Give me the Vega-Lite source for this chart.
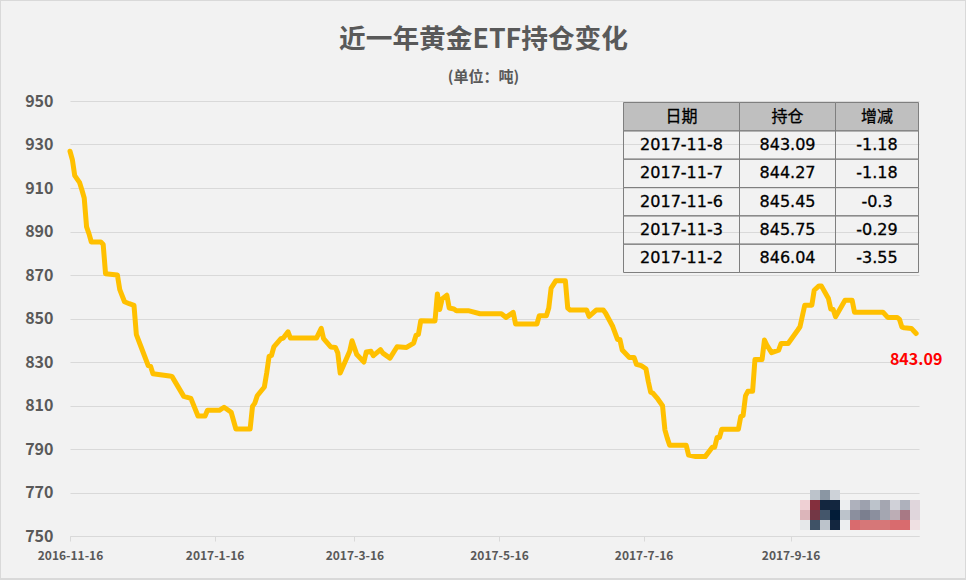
{
  "$schema": "https://vega.github.io/schema/vega-lite/v6.json",
  "description": "近一年黄金ETF持仓变化",
  "background": "#f2f2f2",
  "autosize": "none",
  "padding": {"left": 70, "top": 101, "right": 47, "bottom": 44},
  "width": 849,
  "height": 435,
  "title": {
    "text": "近一年黄金ETF持仓变化",
    "subtitle": "(单位：吨)\u00a0\u00a0\u00a0",
    "anchor": "middle",
    "frame": "group",
    "dx": -11,
    "offset": -85.5,
    "font": "Noto Sans CJK SC",
    "fontSize": 26.7,
    "fontWeight": "bold",
    "color": "#595959",
    "subtitleFont": "Noto Sans CJK SC",
    "subtitleFontSize": 15,
    "subtitleFontWeight": "bold",
    "subtitleColor": "#595959",
    "subtitlePadding": 15.5
  },
  "config": {"font": "Noto Sans CJK SC", "view": {"stroke": null}},
  "datasets": {
    "holdings": [
      {"date":"2016-11-16","tons":926.9},{"date":"2016-11-17","tons":923},{"date":"2016-11-18","tons":915.7},{"date":"2016-11-20","tons":912.6},{"date":"2016-11-21","tons":909.2},{"date":"2016-11-22","tons":905.4},{"date":"2016-11-23","tons":892.1},{"date":"2016-11-24","tons":889},{"date":"2016-11-25","tons":885.2},{"date":"2016-11-29","tons":885.2},{"date":"2016-11-30","tons":884},
      {"date":"2016-12-01","tons":870.6},{"date":"2016-12-06","tons":870},{"date":"2016-12-07","tons":863.3},{"date":"2016-12-09","tons":857.7},{"date":"2016-12-11","tons":856.8},{"date":"2016-12-13","tons":856},{"date":"2016-12-14","tons":842.6},{"date":"2016-12-16","tons":836.9},{"date":"2016-12-19","tons":828.3},{"date":"2016-12-20","tons":828},{"date":"2016-12-21","tons":824.6},{"date":"2016-12-28","tons":823.6},{"date":"2016-12-29","tons":823.4},
      {"date":"2017-01-03","tons":814.2},{"date":"2017-01-06","tons":813.3},{"date":"2017-01-09","tons":805.2},{"date":"2017-01-12","tons":805.2},{"date":"2017-01-13","tons":807.8},{"date":"2017-01-18","tons":807.8},{"date":"2017-01-20","tons":809.2},{"date":"2017-01-23","tons":806.9},{"date":"2017-01-25","tons":799.2},{"date":"2017-01-31","tons":799.2},
      {"date":"2017-02-01","tons":809.6},{"date":"2017-02-02","tons":811.1},{"date":"2017-02-03","tons":814.5},{"date":"2017-02-06","tons":818.5},{"date":"2017-02-07","tons":825},{"date":"2017-02-08","tons":832.6},{"date":"2017-02-09","tons":833},{"date":"2017-02-10","tons":836.9},{"date":"2017-02-13","tons":840.7},{"date":"2017-02-14","tons":841},{"date":"2017-02-16","tons":843.9},{"date":"2017-02-17","tons":841},{"date":"2017-02-28","tons":841},
      {"date":"2017-03-02","tons":845.5},{"date":"2017-03-03","tons":840.7},{"date":"2017-03-06","tons":836.9},{"date":"2017-03-08","tons":836.7},{"date":"2017-03-09","tons":834.1},{"date":"2017-03-10","tons":824.9},{"date":"2017-03-14","tons":834.9},{"date":"2017-03-15","tons":839.8},{"date":"2017-03-17","tons":833.4},{"date":"2017-03-20","tons":830},{"date":"2017-03-21","tons":834.6},{"date":"2017-03-23","tons":834.9},{"date":"2017-03-24","tons":832.9},{"date":"2017-03-27","tons":835.7},{"date":"2017-03-28","tons":834.1},{"date":"2017-03-31","tons":831.8},
      {"date":"2017-04-03","tons":837},{"date":"2017-04-07","tons":836.7},{"date":"2017-04-10","tons":838.7},{"date":"2017-04-11","tons":842.3},{"date":"2017-04-12","tons":842.7},{"date":"2017-04-13","tons":849},{"date":"2017-04-19","tons":848.9},{"date":"2017-04-20","tons":861.3},{"date":"2017-04-21","tons":854.1},{"date":"2017-04-22","tons":859},{"date":"2017-04-24","tons":860.7},{"date":"2017-04-25","tons":854.8},{"date":"2017-04-27","tons":854.4},{"date":"2017-04-28","tons":853.6},
      {"date":"2017-05-03","tons":853.6},{"date":"2017-05-08","tons":852.2},{"date":"2017-05-17","tons":852.2},{"date":"2017-05-19","tons":850.5},{"date":"2017-05-22","tons":852.8},{"date":"2017-05-23","tons":847.5},
      {"date":"2017-06-01","tons":847.5},{"date":"2017-06-02","tons":851.3},{"date":"2017-06-05","tons":851.3},{"date":"2017-06-06","tons":854.8},{"date":"2017-06-07","tons":864},{"date":"2017-06-09","tons":867.4},{"date":"2017-06-13","tons":867.4},{"date":"2017-06-14","tons":854.8},{"date":"2017-06-15","tons":853.9},{"date":"2017-06-22","tons":853.9},{"date":"2017-06-23","tons":851},{"date":"2017-06-26","tons":853.9},{"date":"2017-06-29","tons":853.9},{"date":"2017-06-30","tons":852.4},
      {"date":"2017-07-03","tons":846.3},{"date":"2017-07-05","tons":840.4},{"date":"2017-07-06","tons":840.4},{"date":"2017-07-07","tons":835.5},{"date":"2017-07-10","tons":832.1},{"date":"2017-07-12","tons":832.1},{"date":"2017-07-13","tons":828.9},{"date":"2017-07-15","tons":828.3},{"date":"2017-07-17","tons":826.9},{"date":"2017-07-18","tons":821},{"date":"2017-07-19","tons":816.1},{"date":"2017-07-20","tons":815.6},{"date":"2017-07-22","tons":813},{"date":"2017-07-24","tons":809.9},{"date":"2017-07-25","tons":798.8},{"date":"2017-07-26","tons":795},{"date":"2017-07-27","tons":791.7},
      {"date":"2017-08-03","tons":791.7},{"date":"2017-08-04","tons":787.2},{"date":"2017-08-07","tons":786.5},{"date":"2017-08-11","tons":786.5},{"date":"2017-08-14","tons":790.8},{"date":"2017-08-15","tons":790.8},{"date":"2017-08-16","tons":795.3},{"date":"2017-08-17","tons":795.3},{"date":"2017-08-18","tons":799.1},{"date":"2017-08-25","tons":799.1},{"date":"2017-08-26","tons":804.9},{"date":"2017-08-27","tons":805.4},{"date":"2017-08-28","tons":814.4},{"date":"2017-08-29","tons":816.5},{"date":"2017-08-31","tons":816.5},
      {"date":"2017-09-01","tons":831.2},{"date":"2017-09-04","tons":831.2},{"date":"2017-09-05","tons":840.1},{"date":"2017-09-06","tons":837.8},{"date":"2017-09-08","tons":834.3},{"date":"2017-09-11","tons":835.5},{"date":"2017-09-12","tons":838.5},{"date":"2017-09-15","tons":838.5},{"date":"2017-09-19","tons":844.6},{"date":"2017-09-20","tons":846.2},{"date":"2017-09-22","tons":856.1},{"date":"2017-09-25","tons":856.1},{"date":"2017-09-26","tons":863},{"date":"2017-09-28","tons":865},{"date":"2017-09-29","tons":865},
      {"date":"2017-10-02","tons":859.2},{"date":"2017-10-03","tons":854.3},{"date":"2017-10-04","tons":854.1},{"date":"2017-10-05","tons":850.8},{"date":"2017-10-09","tons":858.4},{"date":"2017-10-12","tons":858.4},{"date":"2017-10-13","tons":852.9},{"date":"2017-10-25","tons":852.9},{"date":"2017-10-27","tons":850.5},{"date":"2017-10-31","tons":850.5},
      {"date":"2017-11-01","tons":849.59},{"date":"2017-11-02","tons":846.04},{"date":"2017-11-03","tons":845.75},{"date":"2017-11-06","tons":845.45},{"date":"2017-11-07","tons":844.27},{"date":"2017-11-08","tons":843.09}
    ],
    "latest": [{"date":"2017-11-08","tons":843.09}],
    "frame": [{"part":"frame"}],
    "table": [
      {"row":"h","col":0,"colEnd":1,"colMid":0.5,"text":"日期","kind":"head"},
      {"row":"h","col":1,"colEnd":2,"colMid":1.5,"text":"持仓","kind":"head"},
      {"row":"h","col":2,"colEnd":3,"colMid":2.5,"text":"增减","kind":"head"},
      {"row":"a","col":0,"colEnd":1,"colMid":0.5,"text":"2017-11-8","kind":"body"},
      {"row":"a","col":1,"colEnd":2,"colMid":1.5,"text":"843.09","kind":"body"},
      {"row":"a","col":2,"colEnd":3,"colMid":2.5,"text":"-1.18","kind":"body"},
      {"row":"b","col":0,"colEnd":1,"colMid":0.5,"text":"2017-11-7","kind":"body"},
      {"row":"b","col":1,"colEnd":2,"colMid":1.5,"text":"844.27","kind":"body"},
      {"row":"b","col":2,"colEnd":3,"colMid":2.5,"text":"-1.18","kind":"body"},
      {"row":"c","col":0,"colEnd":1,"colMid":0.5,"text":"2017-11-6","kind":"body"},
      {"row":"c","col":1,"colEnd":2,"colMid":1.5,"text":"845.45","kind":"body"},
      {"row":"c","col":2,"colEnd":3,"colMid":2.5,"text":"-0.3","kind":"body"},
      {"row":"d","col":0,"colEnd":1,"colMid":0.5,"text":"2017-11-3","kind":"body"},
      {"row":"d","col":1,"colEnd":2,"colMid":1.5,"text":"845.75","kind":"body"},
      {"row":"d","col":2,"colEnd":3,"colMid":2.5,"text":"-0.29","kind":"body"},
      {"row":"e","col":0,"colEnd":1,"colMid":0.5,"text":"2017-11-2","kind":"body"},
      {"row":"e","col":1,"colEnd":2,"colMid":1.5,"text":"846.04","kind":"body"},
      {"row":"e","col":2,"colEnd":3,"colMid":2.5,"text":"-3.55","kind":"body"}
    ],
    "mosaic": [
      {"c":1,"r":0,"s":"a"},{"c":2,"r":0,"s":"b"},{"c":3,"r":0,"s":"c"},
      {"c":0,"r":1,"s":"d"},{"c":1,"r":1,"s":"e"},{"c":2,"r":1,"s":"f"},{"c":3,"r":1,"s":"f"},{"c":4,"r":1,"s":"g"},{"c":5,"r":1,"s":"h"},{"c":6,"r":1,"s":"i"},{"c":7,"r":1,"s":"a"},{"c":8,"r":1,"s":"r"},{"c":9,"r":1,"s":"j"},{"c":10,"r":1,"s":"h"},{"c":11,"r":1,"s":"k"},
      {"c":0,"r":2,"s":"l"},{"c":1,"r":2,"s":"m"},{"c":2,"r":2,"s":"n"},{"c":3,"r":2,"s":"o"},{"c":4,"r":2,"s":"a"},{"c":5,"r":2,"s":"p"},{"c":6,"r":2,"s":"q"},{"c":7,"r":2,"s":"p"},{"c":8,"r":2,"s":"r"},{"c":9,"r":2,"s":"s"},{"c":10,"r":2,"s":"t"},{"c":11,"r":2,"s":"k"},
      {"c":0,"r":3,"s":"u"},{"c":1,"r":3,"s":"v"},{"c":2,"r":3,"s":"a"},{"c":3,"r":3,"s":"f"},{"c":4,"r":3,"s":"g"},{"c":5,"r":3,"s":"w"},{"c":6,"r":3,"s":"x"},{"c":7,"r":3,"s":"x"},{"c":8,"r":3,"s":"x"},{"c":9,"r":3,"s":"w"},{"c":10,"r":3,"s":"w"},{"c":11,"r":3,"s":"y"}
    ]
  },
  "layer": [
    {
      "data": {"name": "holdings"},
      "mark": {"type": "line", "color": "#ffc000", "strokeWidth": 5, "strokeJoin": "round", "strokeCap": "round", "clip": false},
      "encoding": {
        "x": {
          "field": "date", "type": "temporal",
          "scale": {"type": "utc", "domain": [{"year":2016,"month":11,"date":16,"utc":true},{"year":2017,"month":11,"date":9,"hours":5,"utc":true}]},
          "axis": {
            "title": null,
            "values": [{"year":2016,"month":11,"date":16,"utc":true},{"year":2017,"month":1,"date":16,"utc":true},{"year":2017,"month":3,"date":16,"utc":true},{"year":2017,"month":5,"date":16,"utc":true},{"year":2017,"month":7,"date":16,"utc":true},{"year":2017,"month":9,"date":16,"utc":true}],
            "labelExpr": "utcFormat(datum.value, '%Y-%-m-%-d')",
            "labelFontSize": 12, "labelFontWeight": "bold", "labelColor": "#595959", "labelPadding": 9,
            "labelOverlap": false, "labelFlush": false, "labelAngle": 0,
            "domainColor": "#d9d9d9", "tickColor": "#d9d9d9", "tickSize": 5, "grid": false
          }
        },
        "y": {
          "field": "tons", "type": "quantitative",
          "scale": {"domain": [750, 950], "nice": false, "zero": false},
          "axis": {
            "title": null,
            "values": [750,770,790,810,830,850,870,890,910,930,950],
            "labelFontSize": 16, "labelFontWeight": "bold", "labelColor": "#595959", "labelPadding": 17,
            "domain": false, "ticks": false, "grid": true, "gridColor": "#d9d9d9", "gridWidth": 1
          }
        }
      }
    },
    {
      "data": {"name": "latest"},
      "mark": {"type": "text", "color": "#ff0000", "fontSize": 16, "fontWeight": "bold", "dy": 26, "clip": false},
      "encoding": {
        "x": {"field": "date", "type": "temporal", "axis": null, "scale": {"type": "utc", "domain": [{"year":2016,"month":11,"date":16,"utc":true},{"year":2017,"month":11,"date":9,"hours":5,"utc":true}]}},
        "y": {"field": "tons", "type": "quantitative", "axis": null, "scale": {"domain": [750, 950], "nice": false, "zero": false}},
        "text": {"field": "tons", "type": "quantitative", "format": ".2f"}
      }
    },
    {
      "data": {"name": "table"},
      "mark": {"type": "rect", "stroke": "#7f7f7f", "strokeWidth": 1},
      "encoding": {
        "x": {"field": "col", "type": "quantitative", "axis": null, "scale": {"domain": [0,1,2,3], "range": [553.5,669.5,765.5,848.5], "nice": false, "zero": false}},
        "x2": {"field": "colEnd"},
        "y": {"field": "row", "type": "ordinal", "axis": null, "scale": {"domain": ["h","a","b","c","d","e"], "range": [1.5,171.5], "paddingInner": 0, "paddingOuter": 0}},
        "fill": {"field": "kind", "type": "nominal", "legend": null, "scale": {"domain": ["head","body"], "range": ["#bfbfbf","transparent"]}}
      }
    },
    {
      "data": {"name": "table"},
      "mark": {"type": "text", "color": "#000000", "font": "DejaVu Sans, Noto Sans CJK SC", "fontSize": 16, "baseline": "middle", "stroke": "#000000", "strokeWidth": 0.3},
      "encoding": {
        "x": {"field": "colMid", "type": "quantitative", "axis": null, "scale": {"domain": [0,1,2,3], "range": [553.5,669.5,765.5,848.5], "nice": false, "zero": false}},
        "y": {"field": "row", "type": "ordinal", "axis": null, "scale": {"domain": ["h","a","b","c","d","e"], "range": [1.5,171.5], "paddingInner": 0, "paddingOuter": 0}},
        "text": {"field": "text", "type": "nominal"}
      }
    },
    {
      "data": {"name": "mosaic"},
      "mark": {"type": "rect"},
      "encoding": {
        "x": {"field": "c", "type": "ordinal", "axis": null, "scale": {"domain": [0,1,2,3,4,5,6,7,8,9,10,11], "range": [730,850], "paddingInner": 0, "paddingOuter": 0}},
        "y": {"field": "r", "type": "ordinal", "axis": null, "scale": {"domain": [0,1,2,3], "range": [389,429], "paddingInner": 0, "paddingOuter": 0}},
        "fill": {
          "field": "s", "type": "nominal", "legend": null,
          "scale": {
            "domain": ["a","b","c","d","e","f","g","h","i","j","k","l","m","n","o","p","q","r","s","t","u","v","w","x","y"],
            "range": ["#bcc3cb","#8a96a3","#cdd2d8","#efd0d4","#842f3d","#13263f","#eceef0","#aeb1bc","#9da1ae","#d0d1d8","#e0d6dc","#dcb5ba","#733745","#44566b","#021c38","#8b8f9e","#7b7f8f","#a4a6b1","#bcadb5","#a87985","#e6e8ea","#3f5266","#d96b6e","#d67778","#efe0e2"]
          }
        }
      }
    },
    {
      "data": {"name": "frame"},
      "mark": {"type": "rect", "fill": null, "stroke": "#d9d9d9", "strokeWidth": 2, "clip": false},
      "encoding": {
        "x": {"field": "part", "type": "nominal", "axis": null, "scale": {"domain": ["frame"], "range": [-70,896], "paddingInner": 0, "paddingOuter": 0}},
        "y": {"field": "part", "type": "nominal", "axis": null, "scale": {"domain": ["frame"], "range": [-101,478], "paddingInner": 0, "paddingOuter": 0}}
      }
    }
  ],
  "resolve": {"scale": {"x": "independent", "y": "independent", "fill": "independent"}}
}
